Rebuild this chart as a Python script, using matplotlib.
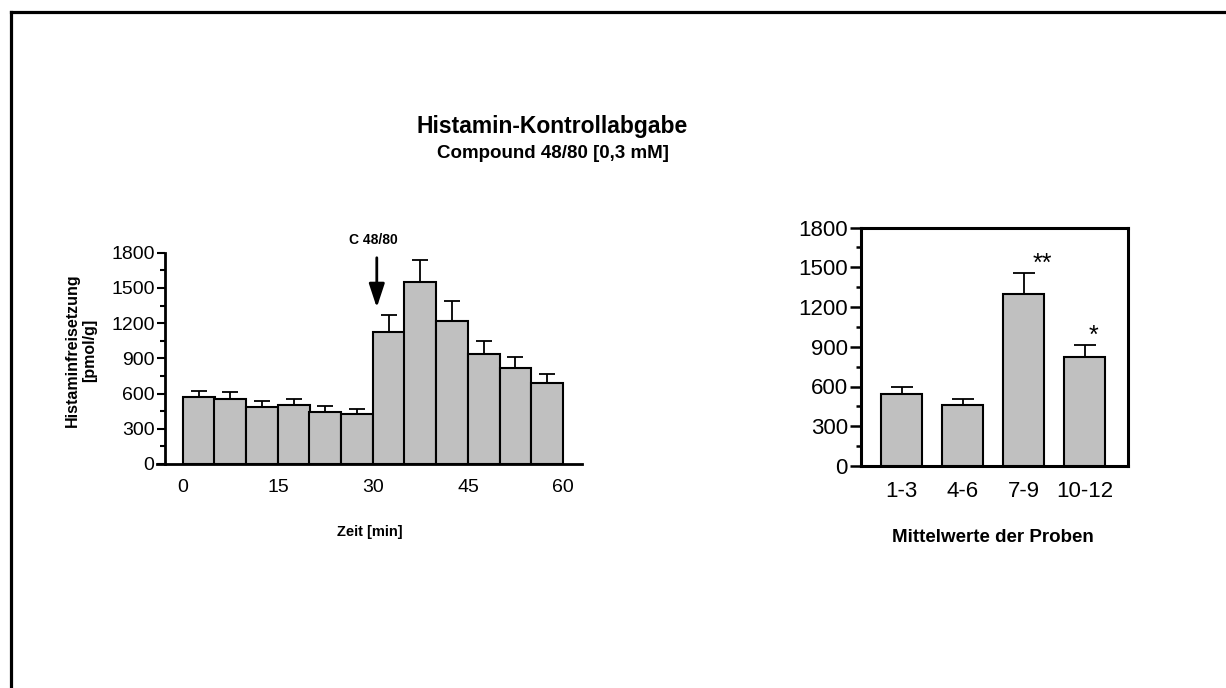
import matplotlib
matplotlib.use("Agg")
import matplotlib.pyplot as plt
import numpy as np
from matplotlib.lines import Line2D
from matplotlib.ticker import MultipleLocator

# ---------------- data ----------------
zeit = [2.5, 7.5, 12.5, 17.5, 22.5, 27.5, 32.5, 37.5, 42.5, 47.5, 52.5, 57.5]
histamin = [567, 550, 482, 499, 445, 422, 1125, 1551, 1219, 941, 822, 689]
histamin_sem = [59, 65, 57, 51, 45, 49, 148, 187, 167, 105, 91, 74]
zeit_ticks = [0, 15, 30, 45, 60]

proben = ["1-3", "4-6", "7-9", "10-12"]
mittel = [540, 457, 1298, 820]
mittel_sem = [56, 48, 159, 91]
signif = ["", "", "**", "*"]

W, H = 1226, 688
plt.rcParams['font.family'] = ['Liberation Sans', 'DejaVu Sans']
fig = plt.figure(figsize=(W / 100, H / 100), dpi=100)

def px(x0, y_top, x1, y_bot):
    return [x0 / W, 1 - y_bot / H, (x1 - x0) / W, (y_bot - y_top) / H]

bar_col = "#c0c0c0"

# ---------------- left: time course ----------------
ax = fig.add_axes(px(157, 252.7, 582, 464))
ax.bar(zeit, histamin, width=5.05, color=bar_col, edgecolor="black", linewidth=1.5, zorder=3)
ax.errorbar(zeit, histamin, yerr=[np.zeros(len(histamin)), histamin_sem], fmt="none",
            ecolor="black", elinewidth=1.3, capsize=6, capthick=1.3, zorder=2)
ax.set_xlim(-4.1, 63.0)
ax.set_ylim(0, 1800)
ax.spines['left'].set_position(('data', -2.84))
for s in ['top', 'right']:
    ax.spines[s].set_visible(False)
for s in ['left', 'bottom']:
    ax.spines[s].set_linewidth(2)
ax.set_xticks(zeit_ticks)
ax.yaxis.set_major_locator(MultipleLocator(300))
ax.yaxis.set_minor_locator(MultipleLocator(150))
ax.tick_params(axis='x', length=0, pad=10.5, labelsize=14)
ax.tick_params(axis='y', which='major', length=6, width=1.5, pad=1.5, labelsize=14)
ax.tick_params(axis='y', which='minor', length=3.5, width=1.5)

ax.annotate("", xy=(30.6, 1333), xytext=(30.6, 1757), annotation_clip=False,
            arrowprops=dict(arrowstyle="-|>,head_length=1.0,head_width=0.33",
                            mutation_scale=14.4, color="black", lw=2, shrinkA=0, shrinkB=0))
ax.text(30.0, 1908, "C 48/80", ha="center", va="center", fontsize=10, fontweight="bold",
        clip_on=False)

fig.text(72 / W, 1 - 350 / H, "Histaminfreisetzung", rotation=90, ha="center", va="center",
         fontsize=11.5, fontweight="bold")
fig.text(89.5 / W, 1 - 350 / H, "[pmol/g]", rotation=90, ha="center", va="center",
         fontsize=11.5, fontweight="bold")
fig.text(370 / W, 1 - 532 / H, "Zeit [min]", ha="center", va="center",
         fontsize=10.5, fontweight="bold")

# ---------------- right: means ----------------
ax2 = fig.add_axes(px(861, 227.5, 1128, 466))
pos = np.arange(len(proben))
ax2.bar(pos, mittel, width=0.67, color=bar_col, edgecolor="black", linewidth=1.5, zorder=3)
ax2.errorbar(pos, mittel, yerr=[np.zeros(len(mittel)), mittel_sem], fmt="none",
             ecolor="black", elinewidth=1.3, capsize=8, capthick=1.3, zorder=2)
for p, m, e, s in zip(pos, mittel, mittel_sem, signif):
    if s:
        ax2.text(p + 0.3 - 0.15 * (len(s) == 1), m + e + 70, s, ha="center", va="center",
                 fontsize=18)
ax2.set_xlim(-0.67, 3.71)
ax2.set_ylim(0, 1800)
for s in ax2.spines.values():
    s.set_linewidth(2.2)
ax2.set_xticks(pos)
ax2.set_xticklabels(proben)
ax2.yaxis.set_major_locator(MultipleLocator(300))
ax2.yaxis.set_minor_locator(MultipleLocator(150))
ax2.tick_params(axis='x', length=0, pad=11, labelsize=16)
ax2.tick_params(axis='y', which='major', length=8, width=1.8, pad=1.5, labelsize=16)
ax2.tick_params(axis='y', which='minor', length=3.5, width=1.8)
fig.text(993 / W, 1 - 538 / H, "Mittelwerte der Proben", ha="center", va="center",
         fontsize=13.5, fontweight="bold")

# ---------------- titles ----------------
fig.text(552 / W, 1 - 126 / H, "Histamin-Kontrollabgabe", ha="center", va="center",
         fontsize=16.5, fontweight="bold")
fig.text(553 / W, 1 - 153 / H, "Compound 48/80 [0,3 mM]", ha="center", va="center",
         fontsize=13.5, fontweight="bold")

# frame
fig.add_artist(Line2D([10.5 / W, 10.5 / W], [0, 1 - 12 / H], color="black", lw=2.3,
                      transform=fig.transFigure, solid_capstyle="projecting"))
fig.add_artist(Line2D([10.5 / W, 1], [1 - 12 / H, 1 - 12 / H], color="black", lw=2.3,
                      transform=fig.transFigure, solid_capstyle="projecting"))

fig.savefig("out.png", dpi=100)
